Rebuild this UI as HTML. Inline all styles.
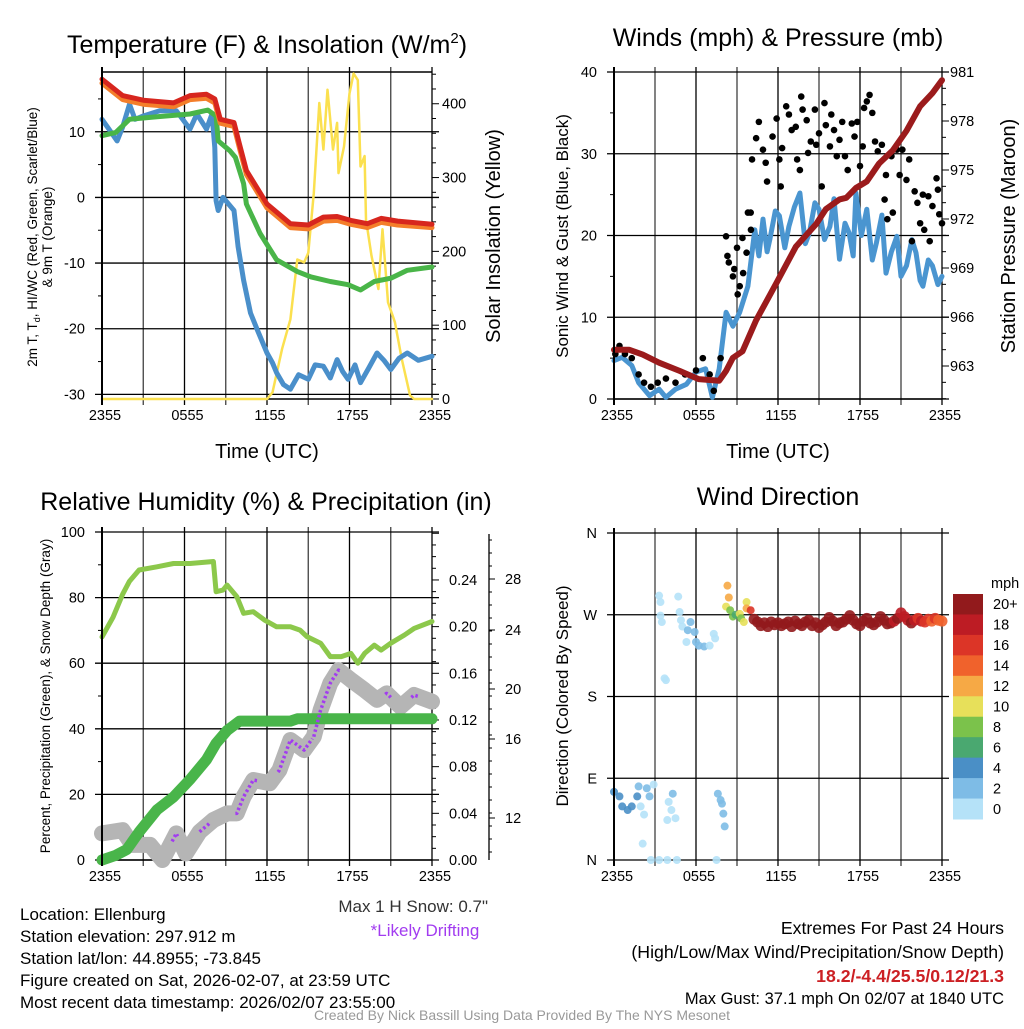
<!DOCTYPE html>
<html><head><meta charset="utf-8"><style>
body{margin:0;background:#fff;}
svg text{font-family:"Liberation Sans",sans-serif;}
</style></head><body>
<svg id="c" width="1024" height="1024" viewBox="0 0 1024 1024" xmlns="http://www.w3.org/2000/svg"></svg>
<script>
// ---------- DATA ----------
const timeTickLabels=["2355","0555","1155","1755","2355"];
const tempTicks=[10,0,-10,-20,-30];
const solarTicks=[0,100,200,300,400];
const windTicks=[0,10,20,30,40];
const presTicks=[963,966,969,972,975,978,981];
const pctTicks=[0,20,40,60,80,100];
const precipTicks=[0.00,0.04,0.08,0.12,0.16,0.20,0.24];
const precipTickLabels=["0.00","0.04","0.08","0.12","0.16","0.20","0.24"];
const snowTicks=[12,16,20,24,28];
const dirTickLabels=["N","E","S","W","N"];
const dirTicks=[0,90,180,270,360];
const speedBinLabels=["0","2","4","6","8","10","12","14","16","18","20+"];

const redH=[0,1.5,3,5.2,6.4,7.6,8.2,8.6,9.6,10,10.5,12,13.7,15,16.1,17.1,18.1,19.3,20.3,21.5,24];
const redT=[18.0,15.5,14.8,14.4,15.5,15.7,15.0,11.9,11.4,8.1,4.1,-1.0,-4.0,-4.2,-3.0,-2.9,-3.5,-4.0,-3.2,-3.6,-4.1];
const orangeT=[17.4,14.9,14.2,13.8,14.9,15.1,14.4,11.3,10.8,7.5,3.5,-1.6,-4.6,-4.8,-3.6,-3.5,-4.1,-4.6,-3.8,-4.2,-4.6];
const greenH=[0,1,2,4,6.4,7.7,8.3,8.45,9.3,9.7,10.3,10.5,11.5,12.7,14.2,15.2,16.6,17.9,18.8,19.8,21,22.2,24];
const greenT=[9.4,9.9,11.9,12.3,12.7,13.3,12.4,8.6,7.1,6.1,2.1,-1.0,-5.5,-9.5,-11.3,-12.1,-12.8,-13.3,-14.1,-12.8,-12.3,-11.1,-10.6];
const blueH=[0,0.5,1.1,1.5,2,2.4,3,4.2,5.4,6.4,6.9,7.6,8,8.2,8.3,8.45,8.8,9.6,9.9,10.3,10.8,11.3,12,12.4,12.7,13.2,13.7,14.3,15,15.5,16.1,16.6,17.1,17.5,17.9,18.4,18.8,19.4,20,20.5,21,21.6,22.2,23,24];
const blueT=[11.9,10.4,8.6,10.7,14.2,11.9,12.4,13.2,13.2,10.4,12.7,10.4,12.7,7.6,-0.5,-2.0,0.0,-2.0,-7.5,-12.6,-17.6,-20.2,-23.7,-25.2,-26.7,-28.5,-29.2,-27.0,-27.7,-25.5,-25.7,-27.5,-24.7,-26.5,-27.7,-25.5,-28.2,-26.0,-23.7,-24.8,-26.2,-24.5,-23.7,-24.8,-24.2];
const solarH=[0,12,12.4,13.1,13.7,14.2,14.7,15,15.4,15.8,16.1,16.4,16.8,17.1,17.2,17.6,18,18.3,18.6,18.8,19.1,19.2,19.6,20.1,20.4,20.8,21.3,21.8,22.4,22.7,24];
const solarW=[0,0,9,68,108,189,185,198,279,401,338,419,338,374,306,342,414,441,432,315,329,243,194,149,230,131,104,54,5,0,0];

const presH=[0,1.1,2.1,3.3,4.8,6.2,7.7,8.2,8.7,9.4,10.4,11.9,13.3,14.8,15.5,16.5,17,17.7,18.5,19.4,20.4,21.4,22.4,23.3,24];
const presMb=[964.0,964.0,963.7,963.2,962.7,962.2,962.1,962.7,963.5,963.9,965.8,968.1,970.3,971.7,972.6,973.2,973.3,973.9,974.3,975.4,976.2,977.4,978.9,979.7,980.5];
const windH=[0,0.6,1.3,1.8,2.6,3.3,3.8,4.5,5.3,6,6.7,7.2,7.7,8.2,8.7,9.2,9.8,10.3,10.6,10.9,11.2,11.4,11.8,12.1,12.5,12.8,13.2,13.6,14,14.3,14.7,15,15.4,15.8,16.1,16.5,16.9,17.2,17.5,17.7,18.1,18.5,18.9,19.2,19.6,19.9,20.3,20.7,21,21.4,21.8,22.1,22.4,22.6,23,23.3,23.7,24];
const windMph=[4.7,5.1,4.1,2.0,0.4,1.2,0.2,1.2,1.8,3.3,3.7,0.2,3.7,10.6,8.9,10.6,13.8,20.7,17.5,22.0,18.0,19.5,23.0,22.4,18.5,21.1,23.5,25.2,19.0,20.3,24.0,23.2,19.5,21.1,24.5,17.1,21.5,20.3,17.5,25.2,20.0,23.2,17.0,19.1,22.5,15.4,18.0,19.9,15.0,16.3,19.5,17.9,14.5,13.8,17.0,16.3,14.0,15.0];
const gustH=[0.1,0.4,0.8,1.3,1.8,2.2,2.7,3.2,3.8,4.5,5.2,6,6.5,7,7.3,7.8,8.2,8.3,8.4,8.8,8.7,9,9.05,9.2,9.4,9.7,9.45,9.8,10,10.02,10.1,10.4,10.6,10.9,11.1,11.2,11.6,11.9,12.1,12.2,12.3,12.6,12.8,13,13.3,13.4,13.6,13.7,13.8,14.1,14.2,14.4,14.7,14.8,15,15.2,15.4,15.5,15.8,15.9,16.1,16.3,16.5,16.7,16.9,17.1,17.4,17.6,17.8,18,18.2,18.3,18.5,18.7,18.9,19.1,19.3,19.6,19.8,19.9,20,20.3,20.4,20.7,20.9,21.1,21.4,21.6,21.8,22,22.2,22.4,22.6,22.7,23,23.1,23.3,23.6,23.7,23.8,24];
const gustMph=[5.5,6.5,5.5,5,3,2,1.5,2,2.5,2,3,3.5,5,3,1,5,19.9,17.5,16.7,15.9,15,18.5,12.8,13.8,19.7,17.9,15.4,22.8,22.8,20.7,29.3,31.9,33.9,30.5,28.9,26.6,32.1,34.3,29.3,26,30.7,35.8,34.8,32.9,33.3,29.3,28,37,35.4,34.1,30.1,31.5,35.4,31.1,32.5,26,36.2,33.5,30.9,34.8,32.9,29.7,31.7,33.9,29.7,28,33.7,32.1,33.9,28.5,30.9,35.6,36.4,37.2,35,31.5,30.3,31.1,24.4,27.4,22,29.7,22.8,30.5,27.4,30.5,26.8,29.3,19.3,25.4,24,21.5,25,20.7,24.8,19.3,23.6,27,25.6,22.6,21.5];

const rhH=[0,0.8,1.5,2,2.7,4,5.2,6.4,8.1,8.3,8.8,9.1,9.8,10.3,11,11.8,12.7,13.7,14.4,14.9,15.9,16.6,17.4,18.1,18.6,19.1,19.8,20.3,21,22,22.7,24];
const rhPct=[68,74,81,85,88.4,89.4,90.4,90.4,91,81.8,82.3,83.8,80.3,75.2,75.7,73.2,71.1,71.1,70.1,68.1,66.1,62,62,63,60,63,65.5,64,66.1,68.6,70.6,72.7];
const precipH=[0,1,1.8,2.7,4,5.2,6.4,7.6,8.3,9.1,10,11.3,13.7,14.2,24];
const precipIn=[0.0,0.004,0.009,0.024,0.043,0.054,0.069,0.086,0.100,0.111,0.119,0.119,0.119,0.121,0.121];
const snowH=[0,1.5,2.2,3.5,4.4,5.4,6.1,7.1,8.1,9.1,9.8,10.3,11,12.2,12.9,13.7,14.7,15.4,15.9,16.6,17.2,18.1,19.1,20,20.7,21.7,22.7,24];
const snowPct=[8.1,9.1,4.6,4.6,0,8.1,2,8.6,12.2,14.2,14.2,19.3,24.4,23.4,27.4,36.6,33.5,37.6,45.7,53.9,57.9,54.9,51.8,48.8,50.8,46.7,50.3,48.3];
const driftStart=[5.1,7.1,9.7,12.8,15.4,20.6,22.5];
const driftEnd=[5.5,7.9,11.3,15.3,17.3,21.0,23.1];

const dirH=[0,0.4,0.6,1,1.3,1.7,1.8,2.4,2.6,2.9,1.95,2.2,2.1,2.7,3.3,3.3,3.4,3.4,3.5,3.7,3.8,4.3,4,4.2,3.9,4.5,3.9,4.6,4.7,4.8,4.9,5,5.4,5.3,5.6,5.9,6,6.2,6.6,7,7.3,7.4,7.6,7.8,7.9,8,8.1,7.5,8.3,8.4,8.2,8.5,8.7,8.9,9.2,9.3,9.7,9.5,9.7,10];
const dirDeg=[75,70,59,55,59,70,81,79,70,83,59,50,18,0,0,291,284,269,262,200,198,73,64,55,44,46,0,0,290,273,264,257,253,240,262,251,240,236,235,236,249,244,73,66,62,51,37,0,302,289,279,275,268,270,271,266,284,262,277,275];
const dirSpd=[4,4,4,4,4,4,3,3,2,1,1,1,1,1,1,1,1,1,1,1,1,3,1,1,1,1,1,1,1,1,1,1,3,1,3,3,3,3,3,1,1,1,3,3,3,3,3,1,12,12,10,9,8,7,10,9,10,10,12,16];
const bandDeg=[265,262,258,261,257,262,259,261,258,260,262,257,263,260,258,262,264,258,261,256,259,262,267,263,258,261,262,265,269,264,260,258,263,266,261,259,262,268,264,260,261,263,266,272,268,264,261,264,266,263,262,265,263,266,264,263];
const bandSpd=[20,20,20,22,21,20,22,23,21,20,22,20,21,22,23,20,21,22,24,20,21,22,20,21,23,22,20,21,20,22,21,20,23,22,21,20,22,21,20,22,21,19,20,18,19,18,20,19,17,18,17,16,15,16,14,15];

// ---------- DRAW ----------
const NS="http://www.w3.org/2000/svg";
const svg=document.getElementById('c');
function mk(tag,attrs,parent){const e=document.createElementNS(NS,tag);for(const k in attrs)e.setAttribute(k,attrs[k]);(parent||svg).appendChild(e);return e;}
function txt(s,x,y,size,anchor,fill,extra,parent){const e=mk('text',Object.assign({x:x,y:y,'font-size':size,'text-anchor':anchor||'middle',fill:fill||'#000'},extra||{}),parent);e.textContent=s;return e;}
function lin(d0,d1,r0,r1){return v=>r0+(v-d0)/(d1-d0)*(r1-r0);}
function poly(hs,vs,xs,ys,color,w,parent){let d='';for(let i=0;i<hs.length;i++)d+=(i?'L':'M')+xs(hs[i]).toFixed(1)+','+ys(vs[i]).toFixed(1);return mk('path',{d:d,fill:'none',stroke:color,'stroke-width':w,'stroke-linejoin':'round','stroke-linecap':'round'},parent);}

function frame(name){
  const g=mk('g',{});
  
  
  return g;
}
function timeAxis(g,L,W,B,T){
  const xs=lin(0,24,L,L+W);
  for(let h=3;h<24;h+=3){mk('line',{x1:xs(h),x2:xs(h),y1:T-5,y2:B+6,stroke:'#000','stroke-width':1.3,'stroke-opacity':h%6?0.75:1},g);}
  [0,24].forEach(h=>mk('line',{x1:xs(h),x2:xs(h),y1:T-5,y2:B+6,stroke:'#000','stroke-width':1.3},g));
  timeTickLabels.forEach((s,i)=>{const t=txt(s,xs(i*6)+3,B+21,14.5,'middle','#000',{},g);});
  return xs;
}
function hgrid(g,L,W,y){mk('line',{x1:L-7,x2:L+W+7,y1:y,y2:y,stroke:'#000','stroke-width':1.3},g);}

// ===== Panel 1 =====
(function(){
  const L=102,W=330,T=72,B=399;
  const g=frame('temperature-panel');
  const xs=timeAxis(g,L,W,B,T);
  const ys=lin(-30.7,19.1,B,T);
  const yr=lin(0,443,B,T);
  tempTicks.forEach(v=>{hgrid(g,L,W,ys(v));const t=txt(String(v),85,ys(v)+5,14.5,'end','#000',{},g);});
  [15,5,-5,-15,-25].forEach(v=>mk('line',{x1:L-4,x2:L,y1:ys(v),y2:ys(v),stroke:'#000'},g));
  for(let v=0;v<=440;v+=20)mk('line',{x1:L+W,x2:L+W+(v%100?4:7),y1:yr(v),y2:yr(v),stroke:'#000'},g);
  solarTicks.forEach(v=>{const t=txt(String(v),442,yr(v)+5,14.5,'start','#000',{},g);});
  mk('line',{x1:L,x2:L+W,y1:T,y2:T,stroke:'#000','stroke-width':1.5},g);
  mk('line',{x1:L,x2:L+W,y1:B,y2:B,stroke:'#000','stroke-width':1.5},g);
  let p;
  p=poly(solarH,solarW,xs,yr,'#fbe04f',2.5,g);
  p=poly(blueH,blueT,xs,ys,'#4a8fca',5,g);
  p=poly(greenH,greenT,xs,ys,'#49b548',5,g);
  p=poly(redH,orangeT,xs,ys,'#f47e2a',5,g);
  p=poly(redH,redT,xs,ys,'#d7261e',5,g);
  mk('line',{x1:L,x2:L,y1:T-5,y2:B+6,stroke:'#000','stroke-width':2},g);
  let t=txt('',267,53,25,'middle','#000',{},g);
  t.innerHTML='Temperature (F) &amp; Insolation (W/m<tspan dy="-10" font-size="15">2</tspan><tspan dy="10">)</tspan>';
  t=txt('',0,0,13.5,'middle','#000',{transform:'translate(37,237) rotate(-90)'},g);
  t.innerHTML='2m T, T<tspan dy="3" font-size="9">d</tspan><tspan dy="-3">, HI/WC (Red, Green, Scarlet/Blue)</tspan>';
  t=txt('& 9m T (Orange)',0,0,13.5,'middle','#000',{transform:'translate(52,237) rotate(-90)'},g);
  t=txt('Solar Insolation (Yellow)',0,0,20,'middle','#000',{transform:'translate(500,236) rotate(-90)'},g);
  t=txt('Time (UTC)',267,458,20,'middle','#000',{},g);
})();

// ===== Panel 2 =====
(function(){
  const L=614,W=328,T=72,B=399;
  const g=frame('winds-panel');
  const xs=timeAxis(g,L,W,B,T);
  const ys=lin(0,40,B,T);
  const yp=lin(960.98,981,B,T);
  windTicks.forEach(v=>{hgrid(g,L,W,ys(v));const t=txt(String(v),597,ys(v)+5,14.5,'end','#000',{},g);});
  [5,15,25,35].forEach(v=>mk('line',{x1:L-4,x2:L,y1:ys(v),y2:ys(v),stroke:'#000'},g));
  for(let v=961;v<=981;v+=1)mk('line',{x1:L+W,x2:L+W+((v-963)%3?4:7),y1:yp(v),y2:yp(v),stroke:'#000'},g);
  presTicks.forEach(v=>{const t=txt(String(v),950,yp(v)+5,14.5,'start','#000',{},g);});
  mk('line',{x1:L,x2:L+W,y1:B,y2:B,stroke:'#000','stroke-width':1.5},g);
  let p=poly(windH,windMph,xs,ys,'#4a95d0',5,g);
  for(let i=0;i<gustH.length;i++){const c=mk('circle',{cx:xs(gustH[i]),cy:ys(gustMph[i]),r:3.3,fill:'#000'},g);
    
    }
  p=poly(presH,presMb,xs,yp,'#9b1b1c',6,g);
  mk('line',{x1:L,x2:L,y1:T-5,y2:B+6,stroke:'#000','stroke-width':2},g);
  let t=txt('Winds (mph) & Pressure (mb)',778,46,25,'middle','#000',{},g);
  t=txt('Sonic Wind & Gust (Blue, Black)',0,0,17,'middle','#000',{transform:'translate(568,236) rotate(-90)'},g);
  t=txt('Station Pressure (Maroon)',0,0,20,'middle','#000',{transform:'translate(1015,236) rotate(-90)'},g);
  t=txt('Time (UTC)',778,458,20,'middle','#000',{},g);
})();

// ===== Panel 3 =====
(function(){
  const L=102,W=330,T=532,B=860;
  const g=frame('humidity-panel');
  const xs=timeAxis(g,L,W,B,T);
  const ys=lin(0,100,B,T);
  const yq=lin(0,0.2811,B,T);
  pctTicks.forEach(v=>{hgrid(g,L,W,ys(v));const t=txt(String(v),85,ys(v)+5,14.5,'end','#000',{},g);});
  [10,30,50,70,90].forEach(v=>mk('line',{x1:L-4,x2:L,y1:ys(v),y2:ys(v),stroke:'#000'},g));
  for(let k=0;k<=28;k++){const v=k*0.01;mk('line',{x1:L+W,x2:L+W+(k%4?4:7),y1:yq(v),y2:yq(v),stroke:'#000'},g);}
  precipTicks.forEach((v,i)=>{const t=txt(precipTickLabels[i],449,yq(v)+5,14.5,'start','#000',{},g);});
  const snowAnchorY=[818,739,689,630,579];
  const sx=489;
  mk('line',{x1:sx,x2:sx,y1:534,y2:860,stroke:'#000','stroke-width':1.3},g);
  snowTicks.forEach((v,i)=>{mk('line',{x1:sx,x2:sx+6,y1:snowAnchorY[i],y2:snowAnchorY[i],stroke:'#000'},g);const t=txt(String(v),505,snowAnchorY[i]+5,14.5,'start','#000',{},g);});
  for(let y=540;y<860;y+=13)mk('line',{x1:sx,x2:sx+3,y1:y,y2:y,stroke:'#000'},g);
  mk('line',{x1:L,x2:L+W,y1:B,y2:B,stroke:'#000','stroke-width':1.5},g);
  let p=poly(rhH,rhPct,xs,ys,'#8cc84b',5,g);
  p=poly(snowH,snowPct,xs,ys,'#b5b5b5',16,g);
  function interpSnow(h){for(let i=1;i<snowH.length;i++){if(h<=snowH[i]){const f=(h-snowH[i-1])/(snowH[i]-snowH[i-1]);return snowPct[i-1]+f*(snowPct[i]-snowPct[i-1]);}}return snowPct[snowPct.length-1];}
  p=poly(precipH,precipIn,xs,yq,'#49b54a',11,g);
  for(let k=0;k<driftStart.length;k++){
    const hs=[],vs=[];
    for(let h=driftStart[k];h<=driftEnd[k]+1e-6;h+=0.05){hs.push(h);vs.push(interpSnow(h));}
    const d=poly(hs,vs,xs,ys,'#a23cf0',3.5,g);d.setAttribute('stroke-dasharray','2.5 2.5');d.setAttribute('stroke-linecap','butt');
    
    
  }
  mk('line',{x1:L,x2:L,y1:T-5,y2:B+6,stroke:'#000','stroke-width':2},g);
  let t=txt('Relative Humidity (%) & Precipitation (in)',266,510,25,'middle','#000',{},g);
  t=txt('Percent, Precipitation (Green), & Snow Depth (Gray)',0,0,13.5,'middle','#000',{transform:'translate(50,696) rotate(-90)'},g);
})();

// ===== Panel 4 =====
const binColors=['#b5e2f8','#7ebce6','#4a8fc6','#4aa870','#7bc24b','#e7e05a','#f6a945','#f0622c','#dc3527','#bd1c24','#921a1c'];
function spdColor(s){let b=Math.floor(s/2);if(b>10)b=10;if(b<0)b=0;return binColors[b];}
(function(){
  const L=614,W=328,T=533,B=860;
  const g=frame('wind-direction-panel');
  const xs=timeAxis(g,L,W,B,T);
  const ys=lin(0,360,B,T);
  dirTicks.forEach((v,i)=>{hgrid(g,L,W,ys(v));const t=txt(dirTickLabels[i],597,ys(v)+5,14.5,'end','#000',{},g);});
  for(let i=0;i<dirH.length;i++){const c=mk('circle',{cx:xs(dirH[i]),cy:ys(dirDeg[i]),r:4,fill:spdColor(dirSpd[i]),'fill-opacity':0.9},g);
    
    }
  for(let i=0;i<bandDeg.length;i++){const c=mk('circle',{cx:xs(10.25+i*0.25),cy:ys(bandDeg[i]),r:5.5,fill:spdColor(bandSpd[i]),'fill-opacity':0.9},g);
    
    }
  mk('line',{x1:L,x2:L,y1:T-5,y2:B+6,stroke:'#000','stroke-width':2},g);
  let t=txt('Wind Direction',778,505,25,'middle','#000',{},g);
  t=txt('Direction (Colored By Speed)',0,0,17,'middle','#000',{transform:'translate(568,696) rotate(-90)'},g);
  const cb=mk('g',{});
  
  
  const cbT=594,cbH=225/11;
  for(let k=0;k<11;k++){const b=10-k;mk('rect',{x:953,y:cbT+k*cbH,width:30,height:cbH+0.5,fill:binColors[b]},cb);
    const tl=txt(speedBinLabels[b],993,cbT+k*cbH+cbH/2+5,14.5,'start','#000',{},cb);}
  t=txt('mph',991,588,14.5,'start','#000',{},cb);
})();

// ===== Footer text =====
const info=["Location: Ellenburg","Station elevation: 297.912 m","Station lat/lon: 44.8955; -73.845","Figure created on Sat, 2026-02-07, at 23:59 UTC","Most recent data timestamp: 2026/02/07 23:55:00"];
info.forEach((s,i)=>{const t=txt(s,20,920+i*22,17,'start');});
let ft=txt('Max 1 H Snow: 0.7"',488,912,17,'end','#333');
ft=txt('*Likely Drifting',425,936,17,'middle','#a23cf0');
ft=txt('Extremes For Past 24 Hours',1004,934,17.7,'end');
ft=txt('(High/Low/Max Wind/Precipitation/Snow Depth)',1004,958,17.7,'end');
ft=txt('18.2/-4.4/25.5/0.12/21.3',1004,982,17.7,'end','#cc2024',{'font-weight':'bold'});
ft=txt('Max Gust: 37.1 mph On 02/07 at 1840 UTC',1004,1004,16.5,'end');
ft=txt('Created By Nick Bassill Using Data Provided By The NYS Mesonet',522,1020,14,'middle','#999');
</script>
</body></html>
